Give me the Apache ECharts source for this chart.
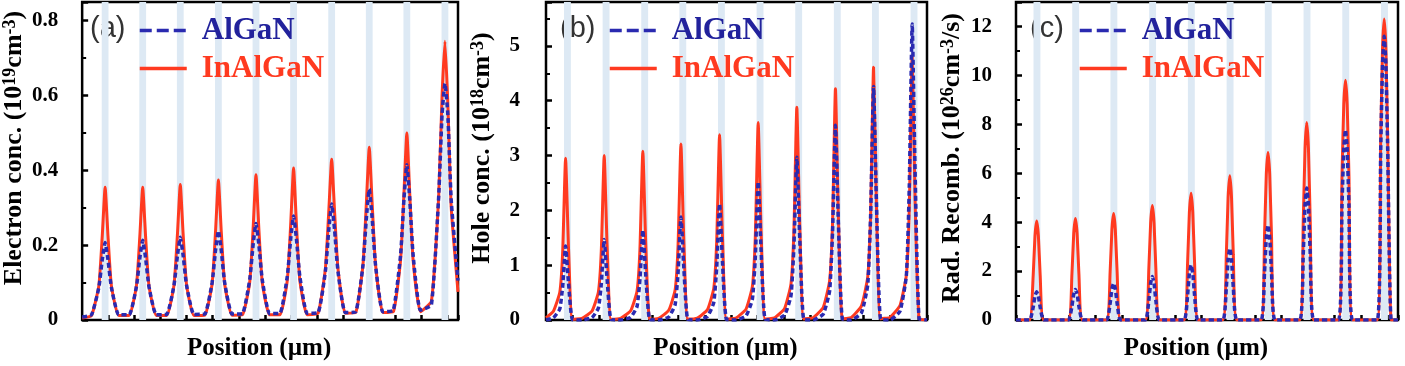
<!DOCTYPE html>
<html>
<head>
<meta charset="utf-8">
<script src="https://cdn.jsdelivr.net/npm/echarts@6/dist/echarts.min.js"></script>
<style>
html, body { margin: 0; padding: 0; background: #fff; }
#chart { width: 1405px; height: 366px; }
</style>
</head>
<body>
<div id="chart"></div>
<script>
// names and labels
const seriesNames = ['AlGaN', 'InAlGaN']
const panelLetters = ['(a)', '(b)', '(c)']
const yNames = [
  'Electron conc. (10{s|19}cm{s|-3})',
  'Hole conc. (10{s|18}cm{s|-3})',
  'Rad. Recomb. (10{s|26}cm{s|-3}/s)'
]
const xName = 'Position (µm)'
const yMax = [0.85, 5.8, 13]
const yStep = [0.2, 1, 2]

// panel (a) electron concentration
const posA = [0,
  1.8, 3.2, 3.85, 4.4, 4.95, 5.6, 7.0,
  9.0, 10.4, 11.05, 11.6, 12.15, 12.8, 14.2,
  16.2, 17.6, 18.25, 18.8, 19.35, 20.0, 21.4,
  23.5, 24.9, 25.55, 26.1, 26.65, 27.3, 28.7,
  30.7, 32.1, 32.75, 33.3, 33.85, 34.5, 35.9,
  37.9, 39.3, 39.95, 40.5, 41.05, 41.7, 43.1,
  45.2, 46.6, 47.25, 47.8, 48.35, 49.0, 50.4,
  52.4, 53.8, 54.45, 55.0, 55.55, 56.2, 57.6,
  59.6, 61.0, 61.65, 62.2, 62.75, 63.4, 64.8,
  66.9, 68.3, 68.95, 69.5, 70.05, 70.7, 72.0]
const inalganA = [0.005,
  0.012, 0.092, 0.224, 0.355, 0.224, 0.092, 0.012,
  0.012, 0.092, 0.224, 0.355, 0.224, 0.092, 0.012,
  0.012, 0.094, 0.228, 0.362, 0.228, 0.094, 0.012,
  0.013, 0.097, 0.236, 0.374, 0.236, 0.097, 0.013,
  0.014, 0.101, 0.244, 0.388, 0.244, 0.101, 0.014,
  0.014, 0.106, 0.256, 0.406, 0.256, 0.106, 0.014,
  0.018, 0.138, 0.292, 0.430, 0.292, 0.138, 0.018,
  0.02, 0.148, 0.314, 0.462, 0.314, 0.148, 0.02,
  0.022, 0.16, 0.34, 0.500, 0.34, 0.16, 0.022,
  0.05, 0.33, 0.60, 0.745, 0.58, 0.30, 0.075]
const alganA = [0.008,
  0.014, 0.087, 0.161, 0.207, 0.161, 0.087, 0.014,
  0.014, 0.089, 0.166, 0.213, 0.166, 0.089, 0.014,
  0.015, 0.093, 0.172, 0.221, 0.172, 0.093, 0.015,
  0.016, 0.100, 0.186, 0.238, 0.186, 0.100, 0.016,
  0.017, 0.108, 0.201, 0.258, 0.201, 0.108, 0.017,
  0.018, 0.117, 0.217, 0.278, 0.217, 0.117, 0.018,
  0.02, 0.130, 0.242, 0.310, 0.242, 0.130, 0.02,
  0.022, 0.147, 0.273, 0.350, 0.273, 0.147, 0.022,
  0.026, 0.174, 0.324, 0.415, 0.324, 0.174, 0.026,
  0.04, 0.33, 0.55, 0.632, 0.55, 0.32, 0.105]
const wellsA = [[3.75, 5.05], [10.95, 12.25], [18.15, 19.45], [25.45, 26.75], [32.65, 33.95],
  [39.85, 41.15], [47.15, 48.45], [54.35, 55.65], [61.55, 62.85], [68.85, 70.15]]

// panel (b) hole concentration
const posB = [0, 1.4, 2.6, 3.15, 3.7, 4.25, 5.0,
  6.8, 8.7, 9.9, 10.45, 11.0, 11.55, 12.3,
  14.1, 16.0, 17.2, 17.75, 18.3, 18.85, 19.6,
  21.3, 23.2, 24.4, 24.95, 25.5, 26.05, 26.8,
  28.6, 30.5, 31.7, 32.25, 32.8, 33.35, 34.1,
  35.9, 37.8, 39.0, 39.55, 40.1, 40.65, 41.4,
  43.2, 45.1, 46.3, 46.85, 47.4, 47.95, 48.7,
  50.5, 52.4, 53.6, 54.15, 54.7, 55.25, 56.0,
  57.7, 59.6, 60.8, 61.35, 61.9, 62.45, 63.2,
  65.0, 66.9, 68.1, 68.65, 69.2, 69.75, 70.5,
  72.0]
const inalganB = [0.04, 0.16, 0.5, 1.24, 2.95, 1.33, 0.01,
  0.03, 0.165, 0.51, 1.26, 3.0, 1.35, 0.015,
  0.031, 0.169, 0.524, 1.29, 3.08, 1.39, 0.015,
  0.032, 0.177, 0.546, 1.35, 3.21, 1.44, 0.016,
  0.034, 0.186, 0.575, 1.42, 3.38, 1.52, 0.017,
  0.036, 0.198, 0.612, 1.51, 3.60, 1.62, 0.018,
  0.039, 0.213, 0.66, 1.63, 3.88, 1.75, 0.019,
  0.042, 0.232, 0.717, 1.77, 4.22, 1.90, 0.021,
  0.046, 0.254, 0.784, 1.94, 4.61, 2.07, 0.023,
  0.048, 0.265, 0.82, 2.02, 4.82, 2.17, 0.024,
  0.0]
const alganB = [0.0, 0.04, 0.2, 0.61, 1.35, 0.68, 0.007,
  0.0, 0.044, 0.22, 0.66, 1.47, 0.74, 0.007,
  0.0, 0.049, 0.246, 0.74, 1.64, 0.82, 0.008,
  0.0, 0.056, 0.282, 0.85, 1.88, 0.94, 0.009,
  0.0, 0.064, 0.318, 0.95, 2.12, 1.06, 0.011,
  0.0, 0.076, 0.378, 1.13, 2.52, 1.26, 0.013,
  0.0, 0.089, 0.446, 1.34, 2.97, 1.49, 0.015,
  0.0, 0.107, 0.533, 1.60, 3.55, 1.78, 0.018,
  0.0, 0.128, 0.639, 1.92, 4.26, 2.13, 0.021,
  0.0, 0.162, 0.81, 2.43, 5.40, 2.70, 0.027,
  0.0]
const wellsB = [[3.4, 4.7], [10.7, 12.0], [18.0, 19.3], [25.2, 26.5], [32.5, 33.8],
  [39.8, 41.1], [47.1, 48.4], [54.4, 55.7], [61.6, 62.9], [68.9, 70.2]]

// panel (c) radiative recombination
const posC = [0,
  2.58, 3.24, 3.58, 3.9, 4.22, 4.56, 5.22,
  9.88, 10.54, 10.88, 11.2, 11.52, 11.86, 12.52,
  17.08, 17.74, 18.08, 18.4, 18.72, 19.06, 19.72,
  24.38, 25.04, 25.38, 25.7, 26.02, 26.36, 27.02,
  31.68, 32.34, 32.68, 33.0, 33.32, 33.66, 34.32,
  38.98, 39.64, 39.98, 40.3, 40.62, 40.96, 41.62,
  46.18, 46.84, 47.18, 47.5, 47.82, 48.16, 48.82,
  53.48, 54.14, 54.48, 54.8, 55.12, 55.46, 56.12,
  60.78, 61.44, 61.78, 62.1, 62.42, 62.76, 63.42,
  68.08, 68.74, 69.08, 69.4, 69.72, 70.06, 70.72,
  72]
const inalganC = [0,
  0, 1.82, 3.44, 4.05, 3.44, 1.82, 0,
  0, 1.87, 3.53, 4.15, 3.53, 1.87, 0,
  0, 1.96, 3.70, 4.35, 3.70, 1.96, 0,
  0, 2.11, 3.98, 4.68, 3.98, 2.11, 0,
  0, 2.33, 4.40, 5.18, 4.40, 2.33, 0,
  0, 2.66, 5.02, 5.9, 5.02, 2.66, 0,
  0, 3.43, 5.96, 6.85, 5.96, 3.43, 0,
  0, 4.04, 7.02, 8.07, 7.02, 4.04, 0,
  0, 5.88, 8.82, 9.8, 8.82, 5.88, 0,
  0, 7.38, 11.07, 12.3, 11.07, 7.38, 0,
  0]
const alganC = [0,
  0, 0.52, 0.98, 1.15, 0.98, 0.52, 0,
  0, 0.56, 1.06, 1.25, 1.06, 0.56, 0,
  0, 0.68, 1.28, 1.5, 1.28, 0.68, 0,
  0, 0.80, 1.51, 1.78, 1.51, 0.80, 0,
  0, 1.01, 1.91, 2.25, 1.91, 1.01, 0,
  0, 1.32, 2.49, 2.93, 2.49, 1.32, 0,
  0, 1.94, 3.38, 3.88, 3.38, 1.94, 0,
  0, 2.7, 4.70, 5.4, 4.70, 2.7, 0,
  0, 4.66, 6.99, 7.77, 6.99, 4.66, 0,
  0, 6.96, 10.44, 11.6, 10.44, 6.96, 0,
  0]
const wellsC = [[3.3, 4.6], [10.6, 11.9], [17.8, 19.1], [25.1, 26.4], [32.4, 33.7],
  [39.7, 41.0], [46.9, 48.2], [54.2, 55.5], [61.5, 62.8], [68.8, 70.1]]

const panels = [
  { pos: posA, algan: alganA, inalgan: inalganA, wells: wellsA },
  { pos: posB, algan: alganB, inalgan: inalganB, wells: wellsB },
  { pos: posC, algan: alganC, inalgan: inalganC, wells: wellsC }
]

const serif = "'Liberation Serif', 'Times New Roman', serif"
const red = '#ff3a20'
const blue = '#2a2ab0'
const blueText = '#22229c'
const grids = [
  { left: 76, top: 2, width: 382, height: 321 },
  { left: 546, top: 2, width: 381, height: 321 },
  { left: 1016, top: 2, width: 382, height: 321 }
]
// shifts the rotated y titles a little above the middle, as in the figure
const namePadding = [26, 26, 6]

const zip = (xs, ys) => xs.map((x, i) => [x, ys[i]])

const chart = echarts.init(document.getElementById('chart'))

const option = {
  animation: false,
  backgroundColor: '#fff',
  grid: grids.map(g => ({ ...g, show: true, borderColor: '#000', borderWidth: 2.5, backgroundColor: 'transparent' })),
  xAxis: grids.map((g, i) => ({
    gridIndex: i,
    type: 'value',
    min: 0,
    max: 72,
    interval: 5,
    axisLine: { show: false },
    axisTick: { inside: true, length: 5, lineStyle: { color: '#000', width: 2.5 } },
    axisLabel: { show: false },
    splitLine: { show: false },
    name: xName,
    nameLocation: 'middle',
    nameGap: 16,
    nameTextStyle: { fontFamily: serif, fontWeight: 'bold', fontSize: 25, color: '#000', padding: [0, 22, 0, 0] }
  })),
  yAxis: grids.map((g, i) => ({
    gridIndex: i,
    type: 'value',
    min: 0,
    max: yMax[i],
    interval: yStep[i],
    axisLine: { show: false },
    axisTick: { inside: true, length: 6, lineStyle: { color: '#000', width: 2.5 } },
    minorTick: { show: true, splitNumber: 2, length: 4, lineStyle: { color: '#000', width: 2 } },
    axisLabel: { fontFamily: serif, fontWeight: 'bold', fontSize: 21, color: '#000', margin: i === 1 ? 26 : 24, showMaxLabel: false },
    splitLine: { show: false },
    name: yNames[i],
    nameLocation: 'middle',
    nameGap: 50,
    nameRotate: 90,
    nameTextStyle: {
      fontFamily: serif, fontWeight: 'bold', fontSize: 26, color: '#000', lineHeight: 27,
      padding: [0, 0, 0, namePadding[i]],
      rich: { s: { fontFamily: serif, fontWeight: 'bold', fontSize: 18, lineHeight: 18, verticalAlign: 'top', color: '#000' } }
    }
  })),
  legend: grids.map(g => ({
    left: g.left + 62,
    top: 15,
    padding: 0,
    orient: 'vertical',
    itemWidth: 47,
    itemHeight: 14,
    itemGap: 7,
    selectedMode: false,
    textStyle: { fontFamily: serif, fontWeight: 'bold', fontSize: 31, lineHeight: 30, padding: [0, 0, 0, 10] },
    data: [
      { name: seriesNames[0], itemStyle: { opacity: 0 }, lineStyle: { type: [12, 5], width: 3.5 }, textStyle: { color: blueText } },
      { name: seriesNames[1], itemStyle: { opacity: 0 }, lineStyle: { width: 3.5 }, textStyle: { color: red } }
    ]
  })),
  graphic: grids.map((g, i) => ({
    type: 'text',
    left: g.left + 14,
    top: 14,
    style: { text: panelLetters[i], font: "29px 'Liberation Sans', Arial, sans-serif", fill: '#333' }
  })),
  series: []
}

panels.forEach((p, i) => {
  option.series.push({
    name: seriesNames[1],
    type: 'line',
    xAxisIndex: i,
    yAxisIndex: i,
    data: zip(p.pos, p.inalgan),
    symbol: 'none',
    smooth: 0.15,
    color: red,
    lineStyle: { color: red, width: 3 },
    markArea: {
      silent: true,
      itemStyle: { color: '#dde9f4' },
      data: p.wells.map(w => [{ xAxis: w[0] }, { xAxis: w[1] }])
    }
  })
  option.series.push({
    name: seriesNames[0],
    type: 'line',
    xAxisIndex: i,
    yAxisIndex: i,
    data: zip(p.pos, p.algan),
    symbol: 'none',
    smooth: 0.15,
    color: blue,
    lineStyle: { color: blue, width: 3.5, type: [5, 3] }
  })
})

chart.setOption(option)
</script>
</body>
</html>
